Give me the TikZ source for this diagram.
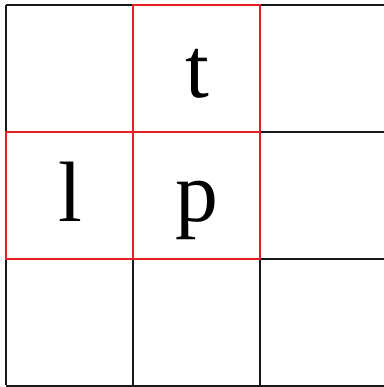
\documentclass[tikz,border=0pt]{standalone}
\usepackage{fontspec}
\setmainfont{Liberation Serif}
\usepackage{tikz}
\usetikzlibrary{calc}
\definecolor{gridred}{RGB}{230,30,40}

\begin{document}
\begin{tikzpicture}[x=1bp,y=-1bp,
    gridline/.style={line width=1.2bp, black!90},
    redcell/.style={line width=1.2bp, gridred},
    letter/.style={anchor=base, inner sep=0pt, font=\fontsize{86}{86}\selectfont}]
        \useasboundingbox (0,0) rectangle (384,387);
        % Grid corners
        \coordinate (O) at (6,5);
        % Black grid
        \foreach \i in {0,1,2,3} {
            \draw[gridline] ($(O)+(127*\i,0)$) -- ($(O)+(127*\i,380)$);
            \draw[gridline] ($(O)+(0,127*\i)$) -- ($(O)+(381,127*\i)$);
        }
        % Red cells
        \draw[redcell] (133,5) rectangle (260,132);
        \draw[redcell] (6,132) rectangle (260,259);
        \draw[redcell] (133,132) -- (133,259);
        % Letters
        \node[letter] (t) at (197,97) {t};
        \node[letter] (l) at (70,221) {l};
        \node[letter] (p) at (197,221) {p};
    \end{tikzpicture}
\end{document}
